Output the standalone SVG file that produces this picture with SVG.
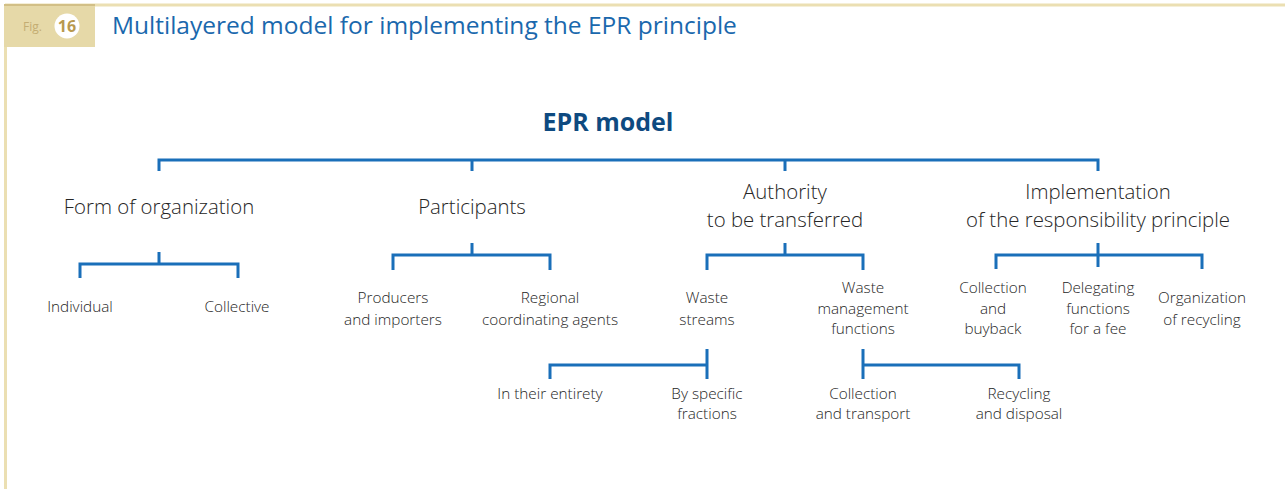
<svg xmlns="http://www.w3.org/2000/svg" width="1285" height="489" viewBox="0 0 1285 489">
<style>
.frame{fill:none;stroke:#ebdfb2;stroke-width:3}
.c{fill:none;stroke:#1a6fb9;stroke-width:3;stroke-linecap:butt;stroke-linejoin:miter}
.t{font-family:"Open Sans","Noto Sans",sans-serif;font-weight:300;fill:#262626;text-anchor:middle}
.l1{font-size:20.4px}
.l2{font-size:15.3px}
</style>
<rect x="0" y="0" width="1285" height="489" fill="#ffffff"/>
<g id="frame">
<line class="frame" x1="5" y1="5" x2="1285" y2="5"/>
<line class="frame" x1="5.5" y1="5" x2="5.5" y2="489"/>
<rect x="4" y="4" width="91" height="43" fill="#e6d9a8"/>
<line x1="4" y1="5" x2="95" y2="5" stroke="#d2bf86" stroke-width="2"/>
<text x="23" y="31" font-family="'Open Sans',sans-serif" font-size="12" fill="#c4ad72">Fig.</text>
<circle cx="67" cy="26" r="12.5" fill="#ffffff"/>
<text x="67" y="32" font-family="'Open Sans',sans-serif" font-size="16" font-weight="bold" fill="#b8994f" text-anchor="middle">16</text>
<text x="112" y="34" font-family="'Open Sans',sans-serif" font-size="24.5" fill="#1a68ad">Multilayered model for implementing the EPR principle</text>
</g>
<g id="connectors">
<path class="c" d="M159,171 V160 H1098 V171 M472,160 V171 M785,160 V171"/>
<path class="c" d="M159,252 V264 M80,278 V264 H238 V278"/>
<path class="c" d="M472,243 V255 M393,270 V255 H550 V270"/>
<path class="c" d="M785,243 V255 M707,270 V255 H863 V270"/>
<path class="c" d="M1098,243 V267 M996,269 V255 H1202 V269"/>
<path class="c" d="M707,349 V379 M550,379 V365 H707"/>
<path class="c" d="M863,349 V379 M863,365 H1019 V379"/>
</g>
<g id="root"><text x="608" y="131" font-family="'Open Sans',sans-serif" font-size="25" font-weight="bold" fill="#0e4a80" text-anchor="middle">EPR model</text></g>
<g id="form"><text class="t l1" x="159" y="214">Form of organization</text></g>
<g id="participants"><text class="t l1" x="472" y="214">Participants</text></g>
<g id="authority"><text class="t l1" x="785" y="199">Authority</text><text class="t l1" x="785" y="227">to be transferred</text></g>
<g id="implementation"><text class="t l1" x="1098" y="199">Implementation</text><text class="t l1" x="1098" y="227">of the responsibility principle</text></g>
<g id="individual"><text class="t l2" x="80" y="312">Individual</text></g>
<g id="collective"><text class="t l2" x="237" y="312">Collective</text></g>
<g id="producers"><text class="t l2" x="393" y="303">Producers</text><text class="t l2" x="393" y="325">and importers</text></g>
<g id="regional"><text class="t l2" x="550" y="303">Regional</text><text class="t l2" x="550" y="325">coordinating agents</text></g>
<g id="waste-streams"><text class="t l2" x="707" y="303">Waste</text><text class="t l2" x="707" y="325">streams</text></g>
<g id="waste-management"><text class="t l2" x="863" y="293">Waste</text><text class="t l2" x="863" y="314">management</text><text class="t l2" x="863" y="334">functions</text></g>
<g id="collection-buyback"><text class="t l2" x="993" y="293">Collection</text><text class="t l2" x="993" y="314">and</text><text class="t l2" x="993" y="334">buyback</text></g>
<g id="delegating"><text class="t l2" x="1098" y="293">Delegating</text><text class="t l2" x="1098" y="314">functions</text><text class="t l2" x="1098" y="334">for a fee</text></g>
<g id="organization-recycling"><text class="t l2" x="1202" y="303">Organization</text><text class="t l2" x="1202" y="325">of recycling</text></g>
<g id="entirety"><text class="t l2" x="550" y="399">In their entirety</text></g>
<g id="fractions"><text class="t l2" x="707" y="399">By specific</text><text class="t l2" x="707" y="419">fractions</text></g>
<g id="collection-transport"><text class="t l2" x="863" y="399">Collection</text><text class="t l2" x="863" y="419">and transport</text></g>
<g id="recycling-disposal"><text class="t l2" x="1019" y="399">Recycling</text><text class="t l2" x="1019" y="419">and disposal</text></g>
</svg>
